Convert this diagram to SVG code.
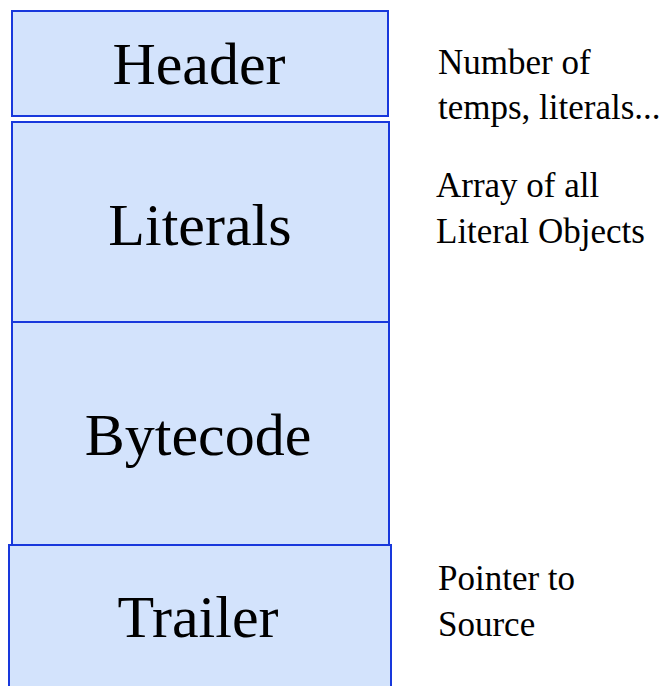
<svg xmlns="http://www.w3.org/2000/svg" width="666" height="686" viewBox="0 0 666 686">
  <style>
    .box { fill: #d3e3fc; stroke: #1838dc; stroke-width: 2; }
    .label { font-family: "Liberation Serif", "Times New Roman", serif; font-size: 60px; fill: #000; text-anchor: middle; }
    .note { font-family: "Liberation Serif", "Times New Roman", serif; font-size: 35px; fill: #000; }
  </style>
  <rect width="666" height="686" fill="#ffffff"/>
  <g id="header">
    <rect class="box" x="12" y="11" width="376" height="105"/>
    <text class="label" x="199" y="84">Header</text>
  </g>
  <g id="literals">
    <rect class="box" x="12" y="122" width="377" height="200"/>
    <text class="label" x="200" y="245">Literals</text>
  </g>
  <g id="bytecode">
    <rect class="box" x="12" y="322" width="377" height="223"/>
    <text class="label" x="198" y="455">Bytecode</text>
  </g>
  <g id="trailer">
    <rect class="box" x="9" y="545" width="382" height="150"/>
    <text class="label" x="198" y="637">Trailer</text>
  </g>
  <g id="notes">
    <text class="note" x="438" y="74">Number of</text>
    <text class="note" x="438" y="119">temps, literals...</text>
    <text class="note" x="436" y="197">Array of all</text>
    <text class="note" x="436" y="243">Literal Objects</text>
    <text class="note" x="438" y="590">Pointer to</text>
    <text class="note" x="438" y="636">Source</text>
  </g>
</svg>
